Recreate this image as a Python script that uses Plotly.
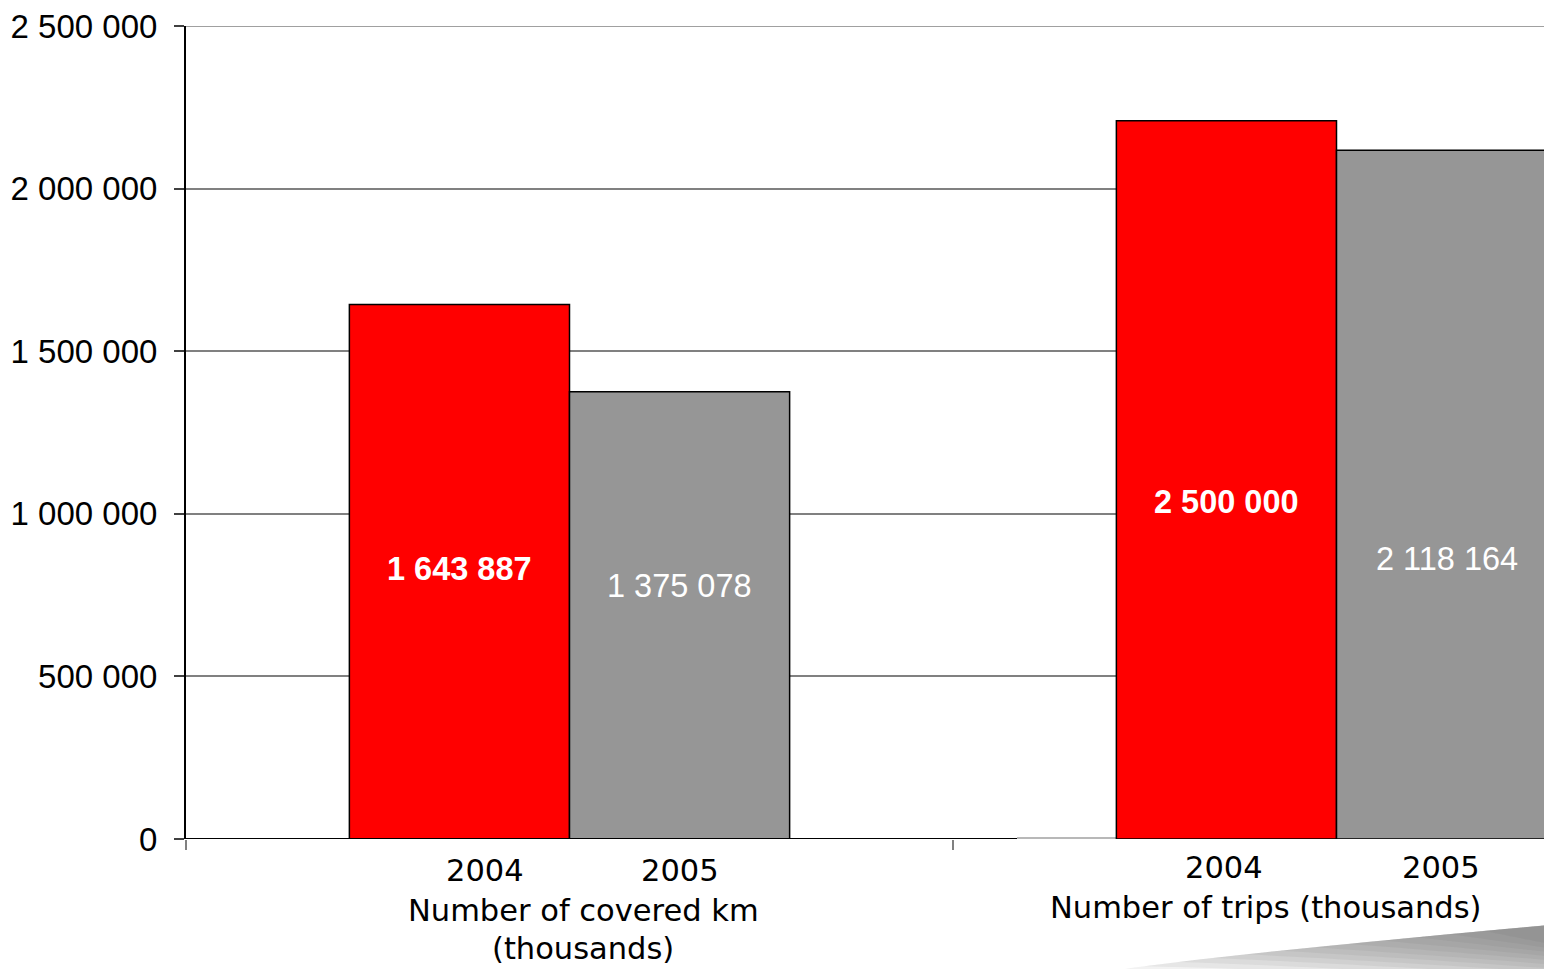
import plotly.graph_objects as go

# ---- data ----
groups = ["Number of covered km<br>(thousands)", "Number of trips (thousands)"]
years = ["2004", "2005"]
values_2004 = [1643887, 2209000]
values_2005 = [1375078, 2118164]
labels_2004 = ["1 643 887", "2 500 000"]
labels_2005 = ["1 375 078", "2 118 164"]
y_ticks = [0, 500000, 1000000, 1500000, 2000000, 2500000]
y_tick_text = ["0", "500 000", "1 000 000", "1 500 000", "2 000 000", "2 500 000"]

# ---- layout constants (page pixels) ----
OFF = 8                      # default body margin of the html page
W, H = 1552 - OFF, 969 - OFF
PLOT_L, PLOT_T, PLOT_B = 186, 23, 839   # plot area in page pixels
PLOT_R = 1552
PLOT_W = PLOT_R - PLOT_L
PLOT_H = PLOT_B - PLOT_T
UNIT = 767.0                 # px per category
XMAX = PLOT_W / UNIT
BAR_W = 0.287
YMAX = 2500000
PX_PER_VAL = PLOT_H / YMAX

def py_to_val(py):
    return (PLOT_B - py) / PX_PER_VAL

def px_to_x(px):
    return (px - PLOT_L) / UNIT

def py_to_paper(py):
    return (PLOT_B - py) / PLOT_H

centers = [0.5 + i for i in range(len(groups))]

fig = go.Figure()
fig.add_trace(go.Bar(
    x=centers, y=values_2004, width=BAR_W, offset=-BAR_W,
    marker=dict(color="#FF0000", line=dict(color="black", width=1.5)),
    name=years[0], hoverinfo="y"))
fig.add_trace(go.Bar(
    x=centers, y=values_2005, width=BAR_W, offset=0,
    marker=dict(color="#969696", line=dict(color="black", width=1.5)),
    name=years[1], hoverinfo="y"))

# value labels (vertical placement styles in px)
label_py_2004 = [568, 501]
label_py_2005 = [585, 558]
vfont = dict(family="Liberation Sans, Arial", size=32.5, color="white")
ann = []
for i, c in enumerate(centers):
    ann.append(dict(x=c - BAR_W / 2, y=py_to_val(label_py_2004[i]), xref="x", yref="y",
                    text="<b>" + labels_2004[i] + "</b>", showarrow=False, font=vfont,
                    xanchor="center", yanchor="middle"))
    ann.append(dict(x=c + BAR_W / 2, y=py_to_val(label_py_2005[i]), xref="x", yref="y",
                    text=labels_2005[i], showarrow=False, font=vfont,
                    xanchor="center", yanchor="middle"))

# category / year labels
year_px = [[485, 680], [1224, 1441]]
year_py = [871, 868]
group_px = [583, 1265]
group_py = [911, 908]        # first line of each group label
LINE_GAP = 38
xfont = dict(family="DejaVu Sans", size=30.5, color="black")
for i in range(len(groups)):
    for j, yr in enumerate(years):
        ann.append(dict(x=px_to_x(year_px[i][j]), y=py_to_paper(year_py[i]), xref="x", yref="paper",
                        text=yr, showarrow=False, font=xfont, xanchor="center", yanchor="middle",
                        borderpad=0))
    for k, line in enumerate(groups[i].split("<br>")):
        ann.append(dict(x=px_to_x(group_px[i]), y=py_to_paper(group_py[i] + k * LINE_GAP),
                        xref="x", yref="paper", text=line, showarrow=False, font=xfont,
                        xanchor="center", yanchor="middle", borderpad=0))

# shapes: top gridline, x-axis baseline, swoosh decoration
def pp(px, py):
    return f"{(px - PLOT_L) / PLOT_W:.4f},{(PLOT_B - py) / PLOT_H:.4f}"

shapes = [
    dict(type="line", xref="paper", yref="y", x0=0, x1=1, y0=YMAX, y1=YMAX,
         line=dict(color="#808080", width=1.5), layer="below"),
    dict(type="line", xref="x", yref="y", x0=0, x1=px_to_x(1017), y0=0, y1=0,
         line=dict(color="black", width=2), layer="above"),
    dict(type="line", xref="x", yref="y", x0=px_to_x(1017), x1=XMAX, y0=py_to_val(838), y1=py_to_val(838),
         line=dict(color="#a0a0a0", width=1.5), layer="below"),
]

# page-curl like swoosh in the bottom-right corner, built from translucent layers
SW_X0, SW_X1 = 1110, 1553
def top_edge(x):
    f = max(0.0, (x - SW_X0) / (SW_X1 - SW_X0))
    return 972 - 47 * f ** 0.85

N_LAYERS = 12
for k in range(N_LAYERS):
    xs = SW_X0 + k * 34
    depth = 64 - 4 * k
    pts_top = [(xs + (SW_X1 - xs) * i / 20) for i in range(21)]
    top = [(x, top_edge(x)) for x in pts_top]
    bot = []
    for x in reversed(pts_top):
        g = (x - xs) / (SW_X1 - xs)
        bot.append((x, min(975, top_edge(x) + depth * g)))
    pts = top + bot
    path = "M " + " L ".join(pp(x, y) for x, y in pts) + " Z"
    shapes.append(dict(type="path", xref="paper", yref="paper", path=path,
                       fillcolor="rgba(95,95,95,0.08)", line=dict(width=0), layer="above"))

fig.update_layout(
    width=W, height=H,
    margin=dict(l=PLOT_L - OFF, r=0, t=PLOT_T - OFF, b=H + OFF - PLOT_B),
    paper_bgcolor="white", plot_bgcolor="white",
    barmode="overlay", showlegend=False,
    annotations=ann, shapes=shapes,
    xaxis=dict(range=[0, XMAX], tickvals=[0, 1, 2], showticklabels=False,
               ticks="outside", ticklen=10, tickcolor="#808080", tickwidth=1.5,
               showgrid=False, zeroline=False, showline=False, fixedrange=True),
    yaxis=dict(range=[0, YMAX], tickvals=y_ticks, ticktext=y_tick_text,
               ticks="outside", ticklen=10, tickcolor="#404040", tickwidth=1.5,
               ticklabelstandoff=10, ticklabeloverflow="allow",
               tickfont=dict(family="Liberation Sans, Arial", size=33, color="black"),
               showgrid=True, gridcolor="#808080", gridwidth=1.5,
               zeroline=False, showline=True, linecolor="black", linewidth=2,
               fixedrange=True),
)

fig.write_html("out.html")
